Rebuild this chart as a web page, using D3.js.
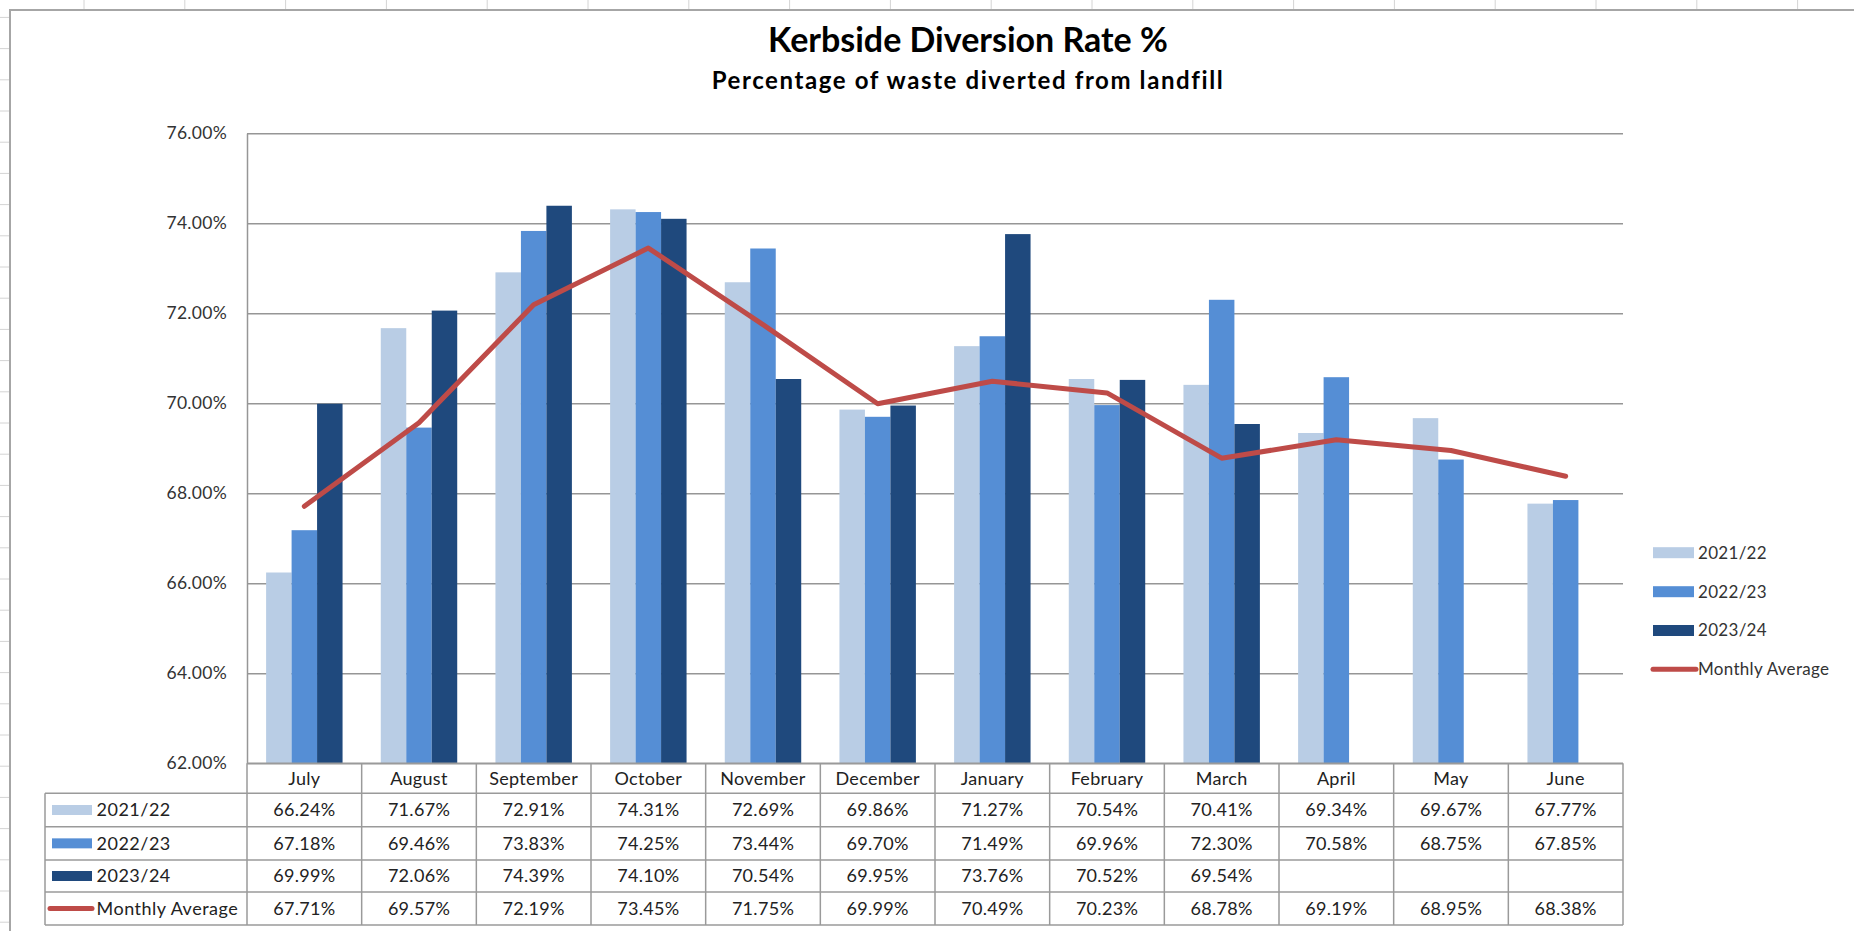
<!DOCTYPE html>
<html>
<head>
<meta charset="utf-8">
<script src="https://cdn.jsdelivr.net/npm/d3@7/dist/d3.min.js"></script>
<style>
  html, body { margin: 0; padding: 0; background: #ffffff; }
  svg { display: block; font-family: Lato, "Open Sans", "DejaVu Sans", sans-serif; }
</style>
</head>
<body>
<svg id="chart" width="1854" height="931"></svg>
<script>
// Kerbside diversion rate by month, per financial year
const months = ["July", "August", "September", "October", "November", "December",
                "January", "February", "March", "April", "May", "June"];
const seriesNames = ["2021/22", "2022/23", "2023/24"];
const rate2122 = [66.24, 71.67, 72.91, 74.31, 72.69, 69.86, 71.27, 70.54, 70.41, 69.34, 69.67, 67.77];
const rate2223 = [67.18, 69.46, 73.83, 74.25, 73.44, 69.70, 71.49, 69.96, 72.30, 70.58, 68.75, 67.85];
const rate2324 = [69.99, 72.06, 74.39, 74.10, 70.54, 69.95, 73.76, 70.52, 69.54, null, null, null];
const monthlyAverage = [67.71, 69.57, 72.19, 73.45, 71.75, 69.99, 70.49, 70.23, 68.78, 69.19, 68.95, 68.38];
const yTicks = [62, 64, 66, 68, 70, 72, 74, 76];
const averageName = "Monthly Average";
const titleText = "Kerbside Diversion Rate %";
const subtitleText = "Percentage of waste diverted from landfill";

const seriesValues = [rate2122, rate2223, rate2324];
const barColors = ["#B9CDE5", "#558ED5", "#1F497D"];
const lineColor = "#BE4B48";

const svg = d3.select("#chart");

// worksheet backdrop: column lines above the chart object, row lines to its left
const frameTop = 10, frameLeft = 10;
const sheetCols = d3.range(18).map(i => 84 + i * 100.8);
svg.append("g").selectAll("line").data(sheetCols).join("line")
  .attr("x1", d => d).attr("x2", d => d).attr("y1", 0).attr("y2", frameTop)
  .attr("stroke", "#d4d4d4").attr("stroke-width", 1);
const sheetRows = d3.range(0, 30).map(i => 17.4 + i * 31.2);
svg.append("g").selectAll("line").data(sheetRows).join("line")
  .attr("x1", 0).attr("x2", frameLeft).attr("y1", d => d).attr("y2", d => d)
  .attr("stroke", "#d4d4d4").attr("stroke-width", 1);

// chart object frame
svg.append("path")
  .attr("d", `M${frameLeft},931 L${frameLeft},${frameTop} L1854,${frameTop}`)
  .attr("fill", "none").attr("stroke", "#a6a6a6").attr("stroke-width", 2);

// titles
svg.append("text").attr("x", 968).attr("y", 52).attr("text-anchor", "middle")
  .attr("font-size", 34).attr("font-weight", 700).attr("fill", "#000")
  .text(titleText);
svg.append("text").attr("x", 968).attr("y", 89).attr("text-anchor", "middle")
  .attr("font-size", 24).attr("font-weight", 700).attr("fill", "#000")
  .attr("letter-spacing", 1.6)
  .text(subtitleText);

// scales
const plotLeft = 247, plotRight = 1623, plotTop = 133.3, plotBottom = 763.3;
const x = d3.scaleBand().domain(months).range([plotLeft, plotRight]).paddingInner(0).paddingOuter(0);
const xs = d3.scaleBand().domain(seriesNames).range([0, x.bandwidth()]).paddingInner(0).paddingOuter(0.75);
const y = d3.scaleLinear().domain([62, 76]).range([plotBottom, plotTop]);

// gridlines and value axis
const yAxis = d3.axisLeft(y).tickValues(yTicks)
  .tickFormat(d => d.toFixed(2) + "%")
  .tickSizeInner(-(plotRight - plotLeft)).tickSizeOuter(0).tickPadding(20);
const gy = svg.append("g").attr("transform", `translate(${plotLeft},0)`).call(yAxis);
gy.select(".domain").attr("stroke", "#969696").attr("stroke-width", 1.5);
gy.selectAll(".tick line").attr("stroke", "#969696").attr("stroke-width", 1.5);
gy.selectAll(".tick text").attr("font-size", 17.5).attr("fill", "#333")
  .attr("font-family", "Lato, sans-serif").attr("letter-spacing", 0.3);

// clustered bars
const barGroups = svg.append("g").selectAll("g").data(seriesNames).join("g")
  .attr("fill", (d, i) => barColors[i]);
barGroups.selectAll("rect")
  .data((name, si) => months.map((m, mi) => ({ m, name, v: seriesValues[si][mi] })).filter(d => d.v != null))
  .join("rect")
  .attr("x", d => x(d.m) + xs(d.name))
  .attr("width", xs.bandwidth())
  .attr("y", d => y(d.v))
  .attr("height", d => y(62) - y(d.v));

// monthly average line
const line = d3.line().x((d, i) => x(months[i]) + x.bandwidth() / 2).y(d => y(d));
svg.append("path").datum(monthlyAverage).attr("d", line)
  .attr("fill", "none").attr("stroke", lineColor).attr("stroke-width", 5)
  .attr("stroke-linejoin", "round").attr("stroke-linecap", "round");

// legend at right
const legend = svg.append("g");
const legendYs = [552.7, 591.7, 630.5, 669.3];
seriesNames.forEach((name, i) => {
  legend.append("rect").attr("x", 1653).attr("y", legendYs[i] - 5.5).attr("width", 41).attr("height", 11)
    .attr("fill", barColors[i]);
  legend.append("text").attr("x", 1698).attr("y", legendYs[i]).attr("dy", "0.35em")
    .attr("font-size", 17).attr("fill", "#333").attr("letter-spacing", 0.3).text(name);
});
legend.append("line").attr("x1", 1653).attr("x2", 1696).attr("y1", legendYs[3]).attr("y2", legendYs[3])
  .attr("stroke", lineColor).attr("stroke-width", 5).attr("stroke-linecap", "round");
legend.append("text").attr("x", 1698).attr("y", legendYs[3]).attr("dy", "0.35em")
  .attr("font-size", 17).attr("fill", "#333").attr("letter-spacing", 0.3).text(averageName);

// data table below the plot
const tableLeft = 45;
const rowEdges = [763.3, 793.3, 826.7, 860, 892, 925];
const table = svg.append("g");
const gridColor = "#9a9a9a";
// horizontal rules
rowEdges.slice(1).forEach(yy => {
  table.append("line").attr("x1", tableLeft).attr("x2", plotRight).attr("y1", yy).attr("y2", yy)
    .attr("stroke", gridColor).attr("stroke-width", 1.5);
});
// axis line along the bottom of the plot
table.append("line").attr("x1", plotLeft).attr("x2", plotRight).attr("y1", rowEdges[0]).attr("y2", rowEdges[0])
  .attr("stroke", gridColor).attr("stroke-width", 1.5);
// vertical rules
table.append("line").attr("x1", tableLeft).attr("x2", tableLeft).attr("y1", rowEdges[1]).attr("y2", rowEdges[5])
  .attr("stroke", gridColor).attr("stroke-width", 1.5);
months.forEach(m => {
  table.append("line").attr("x1", x(m)).attr("x2", x(m)).attr("y1", rowEdges[0]).attr("y2", rowEdges[5])
    .attr("stroke", gridColor).attr("stroke-width", 1.5);
});
table.append("line").attr("x1", plotRight).attr("x2", plotRight).attr("y1", rowEdges[0]).attr("y2", rowEdges[5])
  .attr("stroke", gridColor).attr("stroke-width", 1.5);

const rowMid = i => (rowEdges[i] + rowEdges[i + 1]) / 2;
const cellFont = 18;
// month header row
months.forEach(m => {
  table.append("text").attr("x", x(m) + x.bandwidth() / 2).attr("y", rowMid(0)).attr("dy", "0.35em")
    .attr("text-anchor", "middle").attr("font-size", cellFont).attr("fill", "#222")
    .attr("letter-spacing", 0.3).text(m);
});
// row headers with legend keys
const tableSeries = [...seriesValues, monthlyAverage];
const tableNames = [...seriesNames, averageName];
tableNames.forEach((name, r) => {
  const cy = rowMid(r + 1);
  if (r < 3) {
    table.append("rect").attr("x", 52).attr("y", cy - 5).attr("width", 40).attr("height", 10).attr("fill", barColors[r]);
  } else {
    table.append("line").attr("x1", 50).attr("x2", 92).attr("y1", cy).attr("y2", cy)
      .attr("stroke", lineColor).attr("stroke-width", 5).attr("stroke-linecap", "round");
  }
  table.append("text").attr("x", 96.5).attr("y", cy).attr("dy", "0.35em")
    .attr("font-size", cellFont).attr("fill", "#222").attr("letter-spacing", 0.5).text(name);
  tableSeries[r].forEach((v, mi) => {
    if (v == null) return;
    table.append("text").attr("x", x(months[mi]) + x.bandwidth() / 2).attr("y", cy).attr("dy", "0.35em")
      .attr("text-anchor", "middle").attr("font-size", cellFont).attr("fill", "#222")
      .attr("letter-spacing", 0.3).text(v.toFixed(2) + "%");
  });
});
</script>
</body>
</html>
